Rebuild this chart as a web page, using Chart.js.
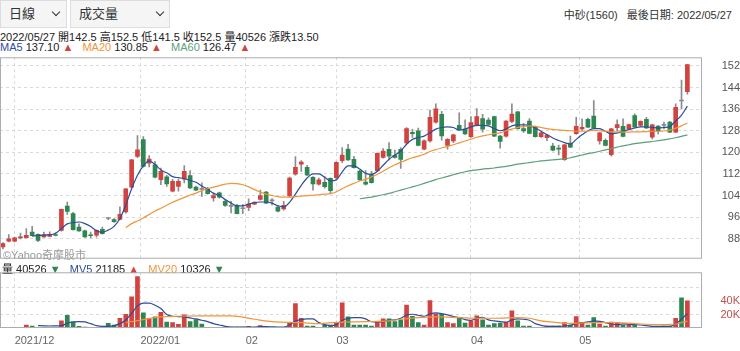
<!DOCTYPE html>
<html>
<head>
<meta charset="utf-8">
<script src="https://cdn.jsdelivr.net/npm/chart.js@4.4.1/dist/chart.umd.min.js"></script>
<style>
body{margin:0;background:#fff;font-family:"Liberation Sans","Noto Sans CJK TC",Arial,sans-serif;}
#wrap{position:relative;width:740px;height:351px;overflow:hidden;}
.sel{position:absolute;top:0;height:28px;box-sizing:border-box;border:1px solid #ddd;background:#f5f5f5;font-size:13px;line-height:26px;padding-left:8px;color:#333;}
.chev{position:absolute;top:8px;width:5px;height:5px;border-right:1.5px solid #333;border-bottom:1.5px solid #333;transform:rotate(45deg);}
.txt{position:absolute;font-size:11px;white-space:nowrap;color:#222;}
.box{position:absolute;left:0;width:740px;}
canvas{display:block;}
</style>
</head>
<body>
<div id="wrap">
  <div class="sel" style="left:0;width:67px;">日線<span class="chev" style="left:52px"></span></div>
  <div class="sel" style="left:70px;width:100px;">成交量<span class="chev" style="left:86px"></span></div>
  <div class="txt" id="stock" style="right:8px;top:6px;color:#333">中砂(1560)&nbsp;&nbsp; 最後日期: 2022/05/27</div>
  <div class="txt" id="info" style="left:0;top:28px"></div>
  <div class="txt" id="maLeg" style="left:0;top:41px"></div>
  <div class="box" style="top:57px;height:202px;"><canvas id="kChart" width="740" height="202"></canvas></div>
  <div class="txt" style="left:3px;top:246px;color:#9a9a9a">©Yahoo奇摩股市</div>
  <div class="txt" id="volLeg" style="left:2px;top:260px"></div>
  <div class="box" style="top:272px;height:79px;"><canvas id="volChart" width="740" height="79"></canvas></div>
</div>
<script>
// daily candles, 2021/11/29 .. 2022/05/27
const opens = [85.0,87.1,87.1,88.3,88.4,90.5,89.6,88.7,88.9,89.5,
 91.1,100.1,97.3,92.3,90.9,89.3,89.3,91.5,95.5,95.1,
 95.2,97.9,107.1,118.5,124.7,116.0,115.4,109.9,110.9,105.6,
 107.4,110.1,111.4,107.1,106.3,106.6,103.1,105.0,101.9,100.0,
 100.3,99.1,99.6,100.8,102.6,105.3,102.0,99.7,99.0,103.9,
 111.9,115.6,114.4,110.7,108.2,108.9,110.4,110.6,116.9,121.2,
 117.4,113.1,109.0,111.6,113.2,118.1,121.1,118.9,121.1,123.5,
 127.4,128.0,121.2,124.2,131.2,134.1,122.6,124.2,130.0,128.6,
 125.8,130.0,132.5,131.9,133.2,126.0,126.0,131.4,135.0,128.8,
 131.6,129.5,125.8,125.4,122.3,121.4,117.3,123.4,126.9,128.7,
 132.2,133.4,124.2,124.4,119.1,129.1,129.6,128.7,133.6,130.0,
 132.2,125.6,129.7,130.0,131.2,127.5,139.0,142.5];
const highs = [86.6,89.5,88.6,90.1,91.8,92.6,89.8,90.5,90.6,90.2,
 99.0,101.6,97.8,93.5,91.2,90.5,91.3,92.3,95.8,95.5,
 99.8,106.6,117.4,126.2,125.8,118.8,116.7,114.2,111.5,110.0,
 110.0,115.1,113.2,107.5,108.7,107.0,105.0,105.3,102.3,101.9,
 100.7,100.7,102.8,101.8,106.0,105.6,102.9,100.3,101.9,110.8,
 118.4,116.9,115.2,111.0,110.5,111.0,110.6,116.5,121.8,123.0,
 118.5,113.4,113.2,113.0,119.8,121.4,123.6,120.8,121.8,129.2,
 128.5,129.0,124.6,135.6,138.0,135.2,125.1,126.8,134.6,132.0,
 133.2,136.2,134.1,132.8,133.4,126.3,131.8,138.0,135.2,130.7,
 132.5,129.7,127.4,126.6,123.3,122.7,123.0,126.0,133.0,132.4,
 132.7,139.2,127.4,125.0,128.9,132.0,132.4,130.5,134.3,131.7,
 133.0,130.4,129.9,131.2,131.5,138.0,146.8,152.5];
const lows = [84.2,86.8,86.8,87.9,88.2,89.0,86.9,88.5,88.7,89.0,
 90.8,97.0,91.2,90.7,88.5,88.3,88.6,89.7,95.1,94.0,
 95.0,97.5,106.8,118.0,114.5,114.6,110.5,108.0,107.4,105.3,
 105.6,108.7,106.5,105.8,103.7,104.5,101.9,103.0,100.0,97.6,
 97.2,97.3,98.4,100.6,102.3,101.0,100.5,97.9,98.6,103.5,
 111.5,112.9,111.4,106.0,107.8,106.7,104.8,110.0,116.2,117.0,
 114.1,109.6,107.8,108.6,112.8,117.8,117.2,117.8,114.0,123.2,
 125.5,122.4,120.9,123.8,130.8,124.5,121.2,123.6,128.2,126.5,
 125.5,129.8,127.5,130.0,125.8,121.5,125.6,131.0,128.6,127.4,
 126.8,125.6,125.5,124.3,120.5,119.0,117.0,121.7,126.6,128.1,
 129.1,128.8,123.0,122.4,118.6,128.0,125.7,128.4,129.1,129.7,
 128.8,125.0,126.8,128.7,127.3,127.3,136.1,141.5];
const closes = [86.2,88.0,88.3,88.7,89.3,89.1,87.4,89.5,89.6,89.2,
 98.9,98.1,91.4,90.9,88.7,89.1,91.1,89.9,95.5,94.3,
 97.0,106.5,117.2,120.9,114.8,117.5,110.8,113.0,108.3,109.3,
 109.3,113.0,106.8,106.0,106.3,104.7,104.0,103.4,100.3,100.0,
 97.3,99.1,100.8,101.5,104.0,101.2,102.0,98.2,100.4,110.5,
 114.4,116.4,111.6,108.3,109.8,107.3,105.8,116.3,119.0,117.2,
 114.3,109.8,108.2,108.8,119.6,120.5,118.6,118.1,117.4,128.8,
 126.9,122.6,124.3,133.0,136.1,126.1,124.8,126.5,128.5,126.8,
 131.0,133.2,128.6,130.3,126.0,124.0,131.6,134.2,128.8,127.9,
 127.0,125.8,127.2,126.4,120.8,121.2,122.8,121.9,129.6,129.3,
 129.3,129.0,127.2,122.6,128.7,130.3,125.9,130.3,129.3,131.5,
 129.0,130.2,127.9,130.0,127.5,136.7,139.0,152.5];
const volumes = [1000,1000,500,1000,4500,3000,1000,1000,1000,1000,
 10500,19000,9000,2500,1500,1000,1000,1000,7000,4500,
 14500,20500,46500,76500,22500,14000,16500,23500,9000,8000,
 5500,19500,9500,12500,6000,1000,1000,1000,1500,1500,
 1500,1500,2500,1000,3500,1000,1000,1000,1000,8000,
 36500,14500,3000,3000,1000,4500,4500,8500,37500,16500,
 4500,4500,4500,3000,9000,13500,13500,9500,12000,34000,
 17500,8000,4500,41000,21000,20500,8000,6500,15500,7500,
 10500,18000,12000,4500,6500,7500,9000,25500,10500,3000,
 3000,1000,1000,3000,3000,3000,8000,4500,17000,8000,
 4500,15500,6000,3000,9000,8000,4500,4500,4500,1000,
 1000,2500,2500,3000,3000,14500,45000,40526];

// moving averages (first index, then one value per day)
const ma5Start = 5;
const ma5 = [89.0,89.2,89.3,89.5,90.0,91.8,93.5,94.0,94.2,93.6,
 92.5,90.9,90.4,91.2,92.6,95.5,100.5,106.5,111.5,115.0,
 116.8,115.5,113.5,112.4,111.0,110.6,110.3,109.6,108.9,107.5,
 106.3,104.8,104.1,102.5,101.2,100.2,100.2,100.8,101.4,101.6,
 101.6,101.2,100.2,99.8,101.5,104.5,107.8,110.5,112.0,112.0,
 110.8,109.4,109.8,112.8,115.0,115.0,113.8,112.2,111.8,113.0,
 115.2,117.4,119.0,120.5,123.0,124.8,125.5,126.0,127.2,128.6,
 129.2,129.4,129.2,128.2,128.6,129.4,130.0,130.0,129.8,128.8,
 128.0,128.6,129.8,130.2,130.2,130.0,129.0,127.8,126.5,125.3,
 124.4,123.6,123.0,124.8,126.5,128.0,128.8,128.8,127.8,126.8,
 127.2,127.8,128.4,129.0,129.4,129.4,129.2,129.0,129.2,129.6,
 131.6,133.8,137.1];
const ma20Start = 21;
const ma20 = [92.1,93.6,94.6,95.7,97.0,98.3,99.3,100.4,101.5,102.4,
 103.3,104.2,104.9,105.8,106.5,107.1,107.7,108.2,108.5,108.4,
 108.0,107.2,106.2,105.3,104.5,104.0,103.6,103.4,103.4,103.6,
 103.8,104.0,104.1,104.3,104.5,104.7,105.4,106.5,107.6,108.5,
 109.4,110.0,110.9,111.9,113.0,114.3,115.4,116.3,117.2,118.0,
 118.6,119.3,120.3,121.0,121.6,122.2,122.8,123.5,124.2,124.9,
 125.6,126.1,126.5,126.9,127.2,128.0,128.6,129.2,129.6,129.8,
 129.6,129.2,128.8,128.5,128.3,128.1,128.0,127.8,127.8,127.9,
 128.1,128.0,127.8,127.6,127.6,127.5,127.5,127.6,127.6,127.7,
 127.8,127.8,127.9,128.2,128.9,129.8,130.85];
const ma60Start = 61;
const ma60 = [102.8,103.1,103.4,103.9,104.3,104.8,105.4,106.0,106.6,107.2,
 107.8,108.5,109.2,109.9,110.5,111.1,111.7,112.3,112.8,113.2,
 113.5,113.8,114.0,114.2,114.5,114.8,115.2,115.6,115.9,116.2,
 116.5,116.8,117.0,117.2,117.4,117.6,118.0,118.5,119.0,119.5,
 119.9,120.4,120.9,121.4,121.9,122.4,122.8,123.2,123.5,123.8,
 124.0,124.3,124.6,125.0,125.4,125.9,126.47];
const mv5Start = 6;
const mv5 = [3500,3200,3000,3200,3500,7000,9000,9500,9000,6500,
 3500,2500,2500,3500,6500,12000,22000,33000,37000,37000,
 34000,29000,20000,17500,17000,16500,15000,13500,11500,9500,
 6500,4500,2500,1500,1500,1500,1500,1500,2000,2000,
 1800,1500,1500,4500,10500,12500,13500,13500,8000,5000,
 3500,5000,11500,14500,15500,15500,13500,9500,9000,9500,
 11500,12000,14500,19500,20500,19000,17500,21000,22500,21500,
 19500,17000,15500,12500,11500,14500,16000,12000,10500,9500,
 8500,12000,13500,13000,11500,6500,4000,2500,2500,2500,
 3000,4000,6500,8000,9000,10500,10000,8000,6000,5000,
 6000,5500,5000,4500,3500,2500,2500,2500,2500,6000,
 13500,21185];
const mv20Pts = [[21,8000],[23,11000],[25,14000],[27,16500],[30,17500],[34,18000],[39,18000],
 [43,13000],[46,9500],[51,8000],[54,6500],[57,8500],[62,9500],[66,10500],[68,13000],
 [71,15500],[74,16500],[78,15500],[81,14500],[84,14500],[88,15500],[90,14500],[92,10500],
 [95,8000],[97,7000],[101,8000],[105,8000],[108,6500],[112,5000],[114,5500],[115,6000],
 [116,8000],[117,10326]];

const priceTicks = [88,96,104,112,120,128,136,144,152];
const volTicks = [20000,40000,60000];
const volTickLabels = ['20K','40K',''];
const monthPos = [2,23.5,41.5,57,80,98.5];
const monthLabels = ['2021/12','2022/01','02','03','04','05'];
const slotCount = 120; // 118 trading days + 2 empty slots at the right edge

const UP = '#d2423f', DOWN = '#2e8653', FLAT = '#8a8a8a', WICK = '#8c8c8c';
const C_MA5 = '#2d4c9c', C_MA20 = '#f0953a', C_MA60 = '#5e9e7c';
const GRID = '#d9d9d9';

const n = closes.length;
const slots = Array.from({length: slotCount}, (_, i) => String(i));
const colors = closes.map((c, i) => c > opens[i] ? UP : (c < opens[i] ? DOWN : FLAT));
function series(start, vals) {
  const out = new Array(n).fill(null);
  vals.forEach((v, k) => { out[start + k] = v; });
  return out;
}
function sparse(pairs) {
  const out = new Array(n).fill(null);
  pairs.forEach(p => { out[p[0]] = p[1]; });
  return out;
}

// header texts
const last = n - 1;
document.getElementById('info').textContent =
  `2022/05/27 開${opens[last].toFixed(1)} 高${highs[last].toFixed(1)} 低${lows[last].toFixed(1)} 收${closes[last].toFixed(1)} 量${volumes[last]} 漲跌${(closes[last]-closes[last-1]).toFixed(2)}`;
const up = '<span style="color:#d2423f">▲</span>', dn = '<span style="color:#2e8653">▼</span>';
document.getElementById('maLeg').innerHTML =
  `<span style="color:${C_MA5}">MA5</span> ${ma5[ma5.length-1].toFixed(2)} ${up}&nbsp;&nbsp; ` +
  `<span style="color:${C_MA20}">MA20</span> ${ma20[ma20.length-1].toFixed(2)} ${up}&nbsp;&nbsp; ` +
  `<span style="color:${C_MA60}">MA60</span> ${ma60[ma60.length-1].toFixed(2)} ${up}`;
document.getElementById('volLeg').innerHTML =
  `量 ${volumes[last]} ${dn}&nbsp;&nbsp; <span style="color:${C_MA5}">MV5</span> ${mv5[mv5.length-1]} ${up}&nbsp;&nbsp; ` +
  `<span style="color:${C_MA20}">MV20</span> ${mv20Pts[mv20Pts.length-1][1]} ${dn}`;

const framePlugin = {
  id: 'frame',
  afterDraw(chart) {
    const {ctx, chartArea: a} = chart;
    ctx.save();
    ctx.strokeStyle = '#adadad';
    ctx.lineWidth = 1;
    ctx.strokeRect(a.left + 0.5, a.top + 0.5, a.right - a.left - 1, a.bottom - a.top - 1);
    ctx.restore();
  }
};

function xScale(showLabels) {
  return {
    type: 'category', offset: true,
    afterBuildTicks: s => { s.ticks = monthPos.map(v => ({value: v})); },
    ticks: {
      display: showLabels, autoSkip: false, maxRotation: 0, align: 'start', padding: 6,
      color: '#666', font: {size: 11, family: '"Liberation Sans", Arial'},
      callback: (v) => monthLabels[monthPos.indexOf(v)]
    },
    grid: {color: GRID, drawTicks: false, offset: false},
    border: {display: false, dash: [3, 3]},
    afterFit: s => { s.height = showLabels ? 23 : 0; }
  };
}

// tiny lineHeight keeps the tick labels from padding the plot area
function yTicks(color) {
  return {color, crossAlign: 'far', padding: 0, font: {size: 11, lineHeight: 0.05, family: '"Liberation Sans", Arial'}};
}

const lineDs = (data, color) => ({
  type: 'line', data, borderColor: color, borderWidth: 1.2, pointRadius: 0, spanGaps: true,
  cubicInterpolationMode: 'monotone', fill: false, order: 0
});

new Chart(document.getElementById('kChart'), {
  type: 'bar',
  data: {
    labels: slots,
    datasets: [
      lineDs(series(ma60Start, ma60), C_MA60),
      lineDs(series(ma20Start, ma20), C_MA20),
      lineDs(series(ma5Start, ma5), C_MA5),
      {
        data: opens.map((o, i) => [o, closes[i]]),
        backgroundColor: colors, barThickness: 4, minBarLength: 1, grouped: false, order: 1
      },
      {
        data: lows.map((l, i) => [l, highs[i]]),
        backgroundColor: WICK, barThickness: 1, grouped: false, order: 2
      }
    ]
  },
  options: {
    responsive: false, animation: false, events: [],
    layout: {padding: 0, autoPadding: false},
    plugins: {legend: {display: false}, tooltip: {enabled: false}},
    scales: {
      x: xScale(false),
      y: {
        position: 'right', min: 80.6, max: 155.2,
        afterBuildTicks: s => { s.ticks = priceTicks.map(v => ({value: v})); },
        afterFit: s => { s.width = 38; },
        ticks: yTicks('#555'),
        grid: {color: GRID, drawTicks: true, tickLength: 10, tickColor: 'rgba(0,0,0,0)'},
        border: {display: false, dash: [3, 3]}
      }
    }
  },
  plugins: [framePlugin]
});

new Chart(document.getElementById('volChart'), {
  type: 'bar',
  data: {
    labels: slots,
    datasets: [
      lineDs(sparse(mv20Pts), C_MA20),
      lineDs(series(mv5Start, mv5), C_MA5),
      {
        data: volumes,
        backgroundColor: colors.map(c => c === FLAT ? DOWN : c), barThickness: 4, grouped: false, order: 1
      }
    ]
  },
  options: {
    responsive: false, animation: false, events: [],
    layout: {padding: 0, autoPadding: false},
    plugins: {legend: {display: false}, tooltip: {enabled: false}},
    scales: {
      x: xScale(true),
      y: {
        position: 'right', min: 0, max: 83000,
        afterBuildTicks: s => { s.ticks = volTicks.map(v => ({value: v})); },
        afterFit: s => { s.width = 38; },
        ticks: Object.assign(yTicks('#c0504d'), {callback: v => volTickLabels[volTicks.indexOf(v)]}),
        grid: {color: GRID, drawTicks: true, tickLength: 11, tickColor: 'rgba(0,0,0,0)'},
        border: {display: false, dash: [3, 3]}
      }
    }
  },
  plugins: [framePlugin]
});
</script>
</body>
</html>
